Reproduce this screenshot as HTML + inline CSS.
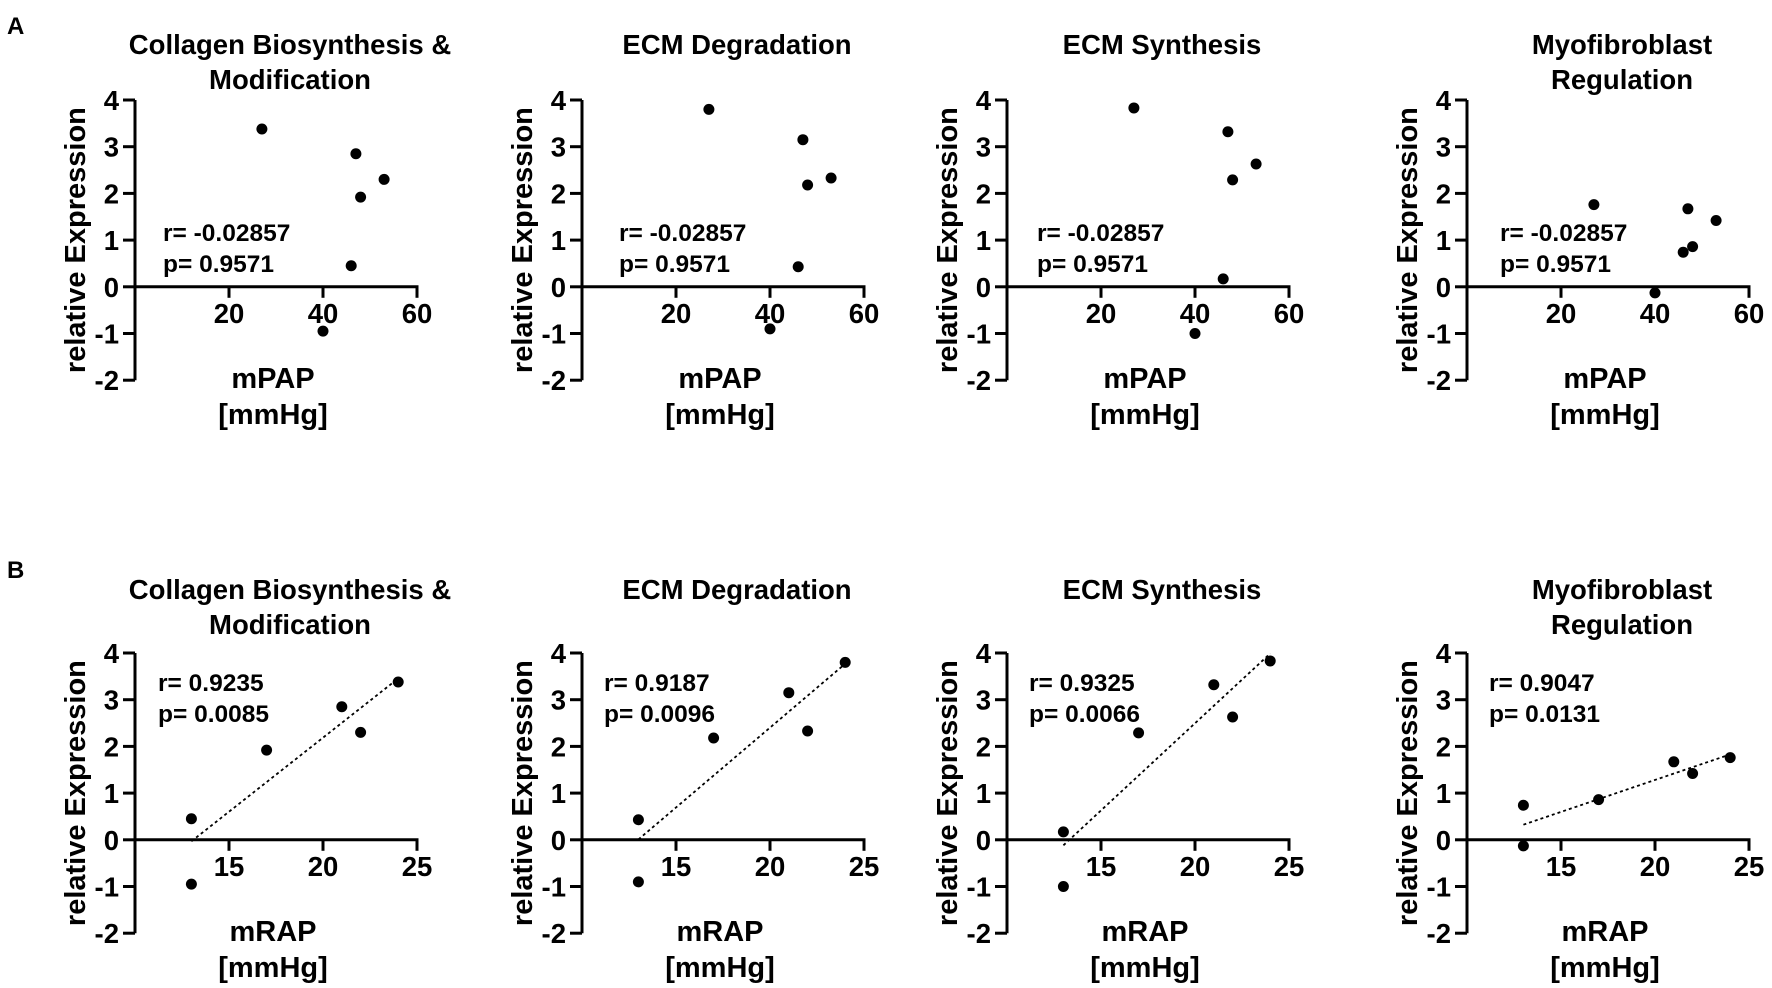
<!DOCTYPE html>
<html><head><meta charset="utf-8"><style>
html,body{margin:0;padding:0;background:#fff;}
svg{display:block;font-family:"Liberation Sans",Arial,sans-serif;font-weight:bold;}
</style></head><body>
<svg id="fig" width="1772" height="988" viewBox="0 0 1772 988" xmlns="http://www.w3.org/2000/svg">
<text x="7" y="34" font-size="24">A</text>
<text x="7" y="578" font-size="24">B</text>
</svg>
<script>
const titles1 = ["Collagen Biosynthesis &", "ECM Degradation", "ECM Synthesis", "Myofibroblast"];
const titles2 = ["Modification", "", "", "Regulation"];
const mpapValues = [27, 47, 53, 48, 46, 40];
const mrapValues = [24, 21, 22, 17, 13, 13];
const exprCollagen = [3.38, 2.85, 2.3, 1.92, 0.45, -0.95];
const exprDegradation = [3.8, 3.15, 2.33, 2.18, 0.43, -0.9];
const exprSynthesis = [3.83, 3.32, 2.63, 2.29, 0.17, -1.0];
const exprMyofibroblast = [1.76, 1.67, 1.42, 0.86, 0.74, -0.13];
const yTicks = [-2, -1, 0, 1, 2, 3, 4];
const xTicksA = [20, 40, 60];
const xTicksB = [15, 20, 25];
const rA = ["-0.02857", "-0.02857", "-0.02857", "-0.02857"];
const pA = ["0.9571", "0.9571", "0.9571", "0.9571"];
const rB = ["0.9235", "0.9187", "0.9325", "0.9047"];
const pB = ["0.0085", "0.0096", "0.0066", "0.0131"];

const series = [exprCollagen, exprDegradation, exprSynthesis, exprMyofibroblast];
const NS = "http://www.w3.org/2000/svg";
const svg = document.getElementById('fig');
const axisX = [135, 582, 1007, 1467];
const annA = [28, 37, 30, 33];
const annB = [23, 22, 22, 22];
function mk(tag, attrs, parent, txt) {
  const e = document.createElementNS(NS, tag);
  for (const k in attrs) e.setAttribute(k, attrs[k]);
  if (txt !== undefined) e.textContent = txt;
  (parent || svg).appendChild(e);
  return e;
}
function panel(row, i) {
  const ax = axisX[i];
  const yTop = row === 0 ? 100 : 653;
  const unit = 46.7;
  const y0 = yTop + 4 * unit;
  const xmin = row === 0 ? 0 : 10, xmax = row === 0 ? 60 : 25;
  const W = 282;
  const sx = v => ax + (v - xmin) / (xmax - xmin) * W;
  const sy = v => y0 - v * unit;
  const g = mk('g', {});
  
  
  const cx = ax + W / 2 + 14;
  const tb = row === 0 ? 54 : 599;
  const t1 = mk('text', {x: cx, y: tb, 'font-size': 27.5, 'text-anchor': 'middle'}, g, titles1[i]);
  
  
  if (titles2[i]) {
    const t2 = mk('text', {x: cx, y: tb + 35, 'font-size': 27.5, 'text-anchor': 'middle'}, g, titles2[i]);
    
    
  }
  const ya = mk('line', {x1: ax, y1: sy(4), x2: ax, y2: sy(-2), stroke: '#000', 'stroke-width': 3}, g);
  
  
  yTicks.forEach(t => {
    mk('line', {x1: ax - 12, y1: sy(t), x2: ax, y2: sy(t), stroke: '#000', 'stroke-width': 3}, g);
    const l = mk('text', {x: ax - 16, y: sy(t) + 10, 'font-size': 27.5, 'text-anchor': 'end'}, g, String(t));
    
    
  });
  const xa = mk('line', {x1: ax, y1: y0, x2: sx(xmax) + 1.5, y2: y0, stroke: '#000', 'stroke-width': 3}, g);
  
  
  (row === 0 ? xTicksA : xTicksB).forEach(t => {
    mk('line', {x1: sx(t), y1: y0, x2: sx(t), y2: y0 + 11, stroke: '#000', 'stroke-width': 3}, g);
    const l = mk('text', {x: sx(t), y: y0 + 36, 'font-size': 27.5, 'text-anchor': 'middle'}, g, String(t));
    
    
  });
  const yl = mk('text', {x: 0, y: 0, 'font-size': 29, 'text-anchor': 'middle', transform: `translate(${ax - 50},${sy(1)}) rotate(-90)`}, g, 'relative Expression');
  
  
  const xl1 = mk('text', {x: ax + 138, y: y0 + 101, 'font-size': 29, 'text-anchor': 'middle'}, g, row === 0 ? 'mPAP' : 'mRAP');
  
  
  const xl2 = mk('text', {x: ax + 138, y: y0 + 137, 'font-size': 29, 'text-anchor': 'middle'}, g, '[mmHg]');
  
  
  const xs = row === 0 ? mpapValues : mrapValues;
  const ys = series[i];
  if (row === 1) {
    const n = xs.length;
    const mx = xs.reduce((a, b) => a + b) / n, my = ys.reduce((a, b) => a + b) / n;
    let sxy = 0, sxx = 0;
    for (let k = 0; k < n; k++) { sxy += (xs[k] - mx) * (ys[k] - my); sxx += (xs[k] - mx) ** 2; }
    const b = sxy / sxx, a = my - b * mx;
    const lo = Math.min(...xs), hi = Math.max(...xs);
    const fl = mk('line', {x1: sx(lo), y1: sy(a + b * lo), x2: sx(hi), y2: sy(a + b * hi), stroke: '#000', 'stroke-width': 1.8, 'stroke-dasharray': '3,3'}, g);
    
    
  }
  for (let k = 0; k < xs.length; k++) {
    const c = mk('circle', {cx: sx(xs[k]), cy: sy(ys[k]), r: 5.5, fill: '#000'}, g);
    
    
  }
  const axo = row === 0 ? annA[i] : annB[i];
  const b1 = row === 0 ? y0 - 46 : y0 - 149;
  const r = mk('text', {x: ax + axo, y: b1, 'font-size': 24.5}, g, 'r= ' + (row === 0 ? rA[i] : rB[i]));
  
  
  const p = mk('text', {x: ax + axo, y: b1 + 31, 'font-size': 24.5}, g, 'p= ' + (row === 0 ? pA[i] : pB[i]));
  
  
}
for (let row = 0; row < 2; row++) for (let i = 0; i < 4; i++) panel(row, i);
</script>
</body></html>
